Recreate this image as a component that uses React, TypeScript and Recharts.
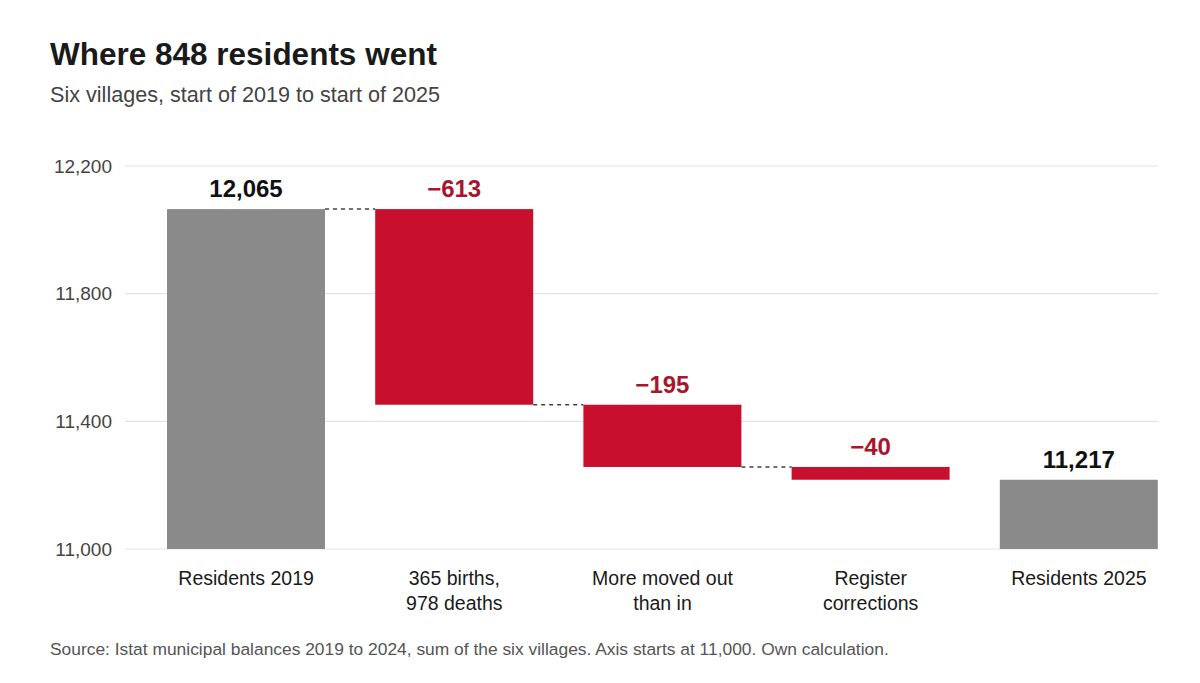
import React from "react";
import { BarChart, Bar, XAxis, YAxis, CartesianGrid, LabelList } from "recharts";

const categories = [
  "Residents 2019",
  "365 births,\n978 deaths",
  "More moved out\nthan in",
  "Register\ncorrections",
  "Residents 2025",
];
const values = [12065, -613, -195, -40, 11217];
const kinds = ["total", "change", "change", "change", "total"];
const yTicks = [11000, 11400, 11800, 12200];
const AXIS_MIN = 11000;
const AXIS_MAX = 12200;

const title = "Where 848 residents went";
const subtitle = "Six villages, start of 2019 to start of 2025";
const source =
  "Source: Istat municipal balances 2019 to 2024, sum of the six villages. Axis starts at 11,000. Own calculation.";

const FONT = "'Liberation Sans', Arial, Helvetica, sans-serif";
const GREY = "#8a8a8a";
const RED = "#c8102e";
const RED_TEXT = "#a8162d";

const W = 1200;
const H = 683;
const MARGIN = { top: 166, right: 42, bottom: 0, left: 0 };
const Y_AXIS_W = 125;
const X_AXIS_H = 134;
const PAD_L = 17;
const PAD_R = -25;
const BAR_SIZE = 158;
const PLOT_W = W - MARGIN.left - MARGIN.right - Y_AXIS_W;
const BAND = (PLOT_W - PAD_L - PAD_R) / categories.length;
const GAP = BAND - BAR_SIZE;

const fmt = (v: number) =>
  v < 0 ? "\u2212" + Math.abs(v).toLocaleString("en-US") : v.toLocaleString("en-US");

let running = 0;
const rows = categories.map((name, i) => {
  const v = values[i];
  let range: [number, number];
  if (kinds[i] === "total") {
    range = [AXIS_MIN, v];
    running = v;
  } else {
    const start = running;
    running = start + v;
    range = [running, start];
  }
  return {
    name,
    range,
    kind: kinds[i],
    label: fmt(v),
    connect: i < categories.length - 1 && kinds[i + 1] === "change",
  };
});

const BarShape = (props: any) => {
  const { x, y, width, height, payload } = props;
  const top = Math.min(y, y + height);
  const h = Math.abs(height);
  const fill = payload.kind === "total" ? GREY : RED;
  const level = payload.kind === "total" ? top : top + h;
  return (
    <g>
      <rect x={x} y={top} width={width} height={h} fill={fill} />
      {payload.connect && (
        <line
          x1={x + width}
          x2={x + width + GAP}
          y1={level}
          y2={level}
          stroke="#444"
          strokeWidth={1.5}
          strokeDasharray="4 4"
        />
      )}
    </g>
  );
};

const CategoryTick = (props: any) => {
  const { x, y, payload } = props;
  const lines = String(payload.value).split("\n");
  return (
    <text
      x={x}
      y={y + 36}
      textAnchor="middle"
      fontFamily={FONT}
      fontSize={19.5}
      fill="#1a1a1a"
    >
      {lines.map((l, i) => (
        <tspan key={i} x={x} dy={i === 0 ? 0 : 25}>
          {l}
        </tspan>
      ))}
    </text>
  );
};

const ValueLabel = (props: any) => {
  const { x, y, width, height, index } = props;
  const top = Math.min(y, y + height);
  const row = rows[index];
  return (
    <text
      x={x + width / 2}
      y={top - 12}
      textAnchor="middle"
      fontFamily={FONT}
      fontSize={24}
      fontWeight="bold"
      fill={row.kind === "total" ? "#111" : RED_TEXT}
    >
      {row.label}
    </text>
  );
};

export default function App() {
  return (
    <div
      style={{
        position: "absolute",
        left: 0,
        top: 0,
        width: W,
        height: H,
        background: "#fff",
        fontFamily: FONT,
      }}
    >
      <svg
        width={W}
        height={H}
        style={{ position: "absolute", left: 0, top: 0, pointerEvents: "none" }}
      >
        <text x={50} y={65} fontFamily={FONT} fontSize={31.5} fontWeight="bold" fill="#1a1a1a">
          {title}
        </text>
        <text x={50} y={101.5} fontFamily={FONT} fontSize={21.6} fill="#444">
          {subtitle}
        </text>
        <text x={50} y={655} fontFamily={FONT} fontSize={17.4} fill="#555">
          {source}
        </text>
      </svg>
      <div style={{ position: "absolute", left: 0, top: 0 }}>
        <BarChart width={W} height={H} data={rows} margin={MARGIN}>
          <CartesianGrid vertical={false} stroke="#e3e3e3" strokeWidth={1.2} />
          <XAxis
            dataKey="name"
            height={X_AXIS_H}
            axisLine={false}
            tickLine={false}
            tickSize={0}
            tickMargin={0}
            interval={0}
            padding={{ left: PAD_L, right: PAD_R }}
            tick={<CategoryTick />}
          />
          <YAxis
            width={Y_AXIS_W}
            domain={[AXIS_MIN, AXIS_MAX]}
            ticks={yTicks}
            axisLine={false}
            tickLine={false}
            tickSize={0}
            tickMargin={13}
            tickFormatter={(v: number) => v.toLocaleString("en-US")}
            tick={{ fontFamily: FONT, fontSize: 19, fill: "#444" }}
            allowDataOverflow
          />
          <Bar
            dataKey="range"
            barSize={BAR_SIZE}
            isAnimationActive={false}
            shape={<BarShape />}
          >
            <LabelList dataKey="label" content={<ValueLabel />} />
          </Bar>
        </BarChart>
      </div>
    </div>
  );
}
